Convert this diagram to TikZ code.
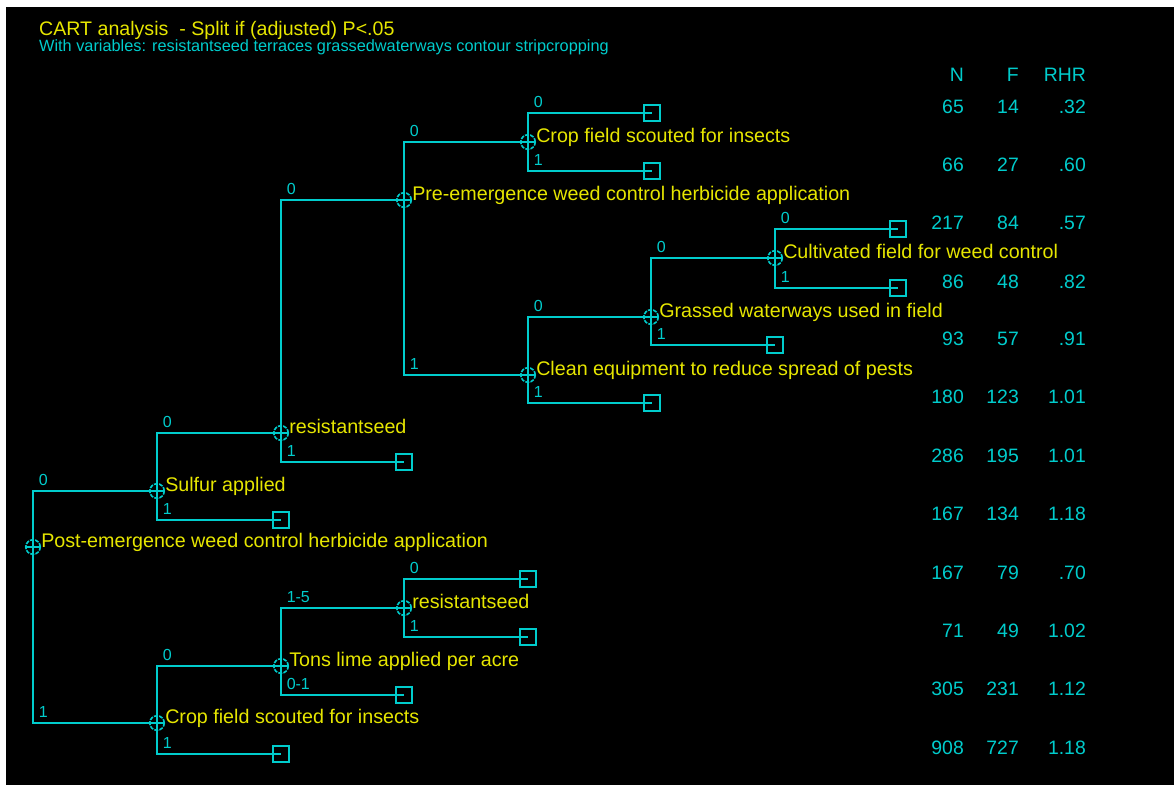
\documentclass[tikz,border=0pt]{standalone}
\usepackage{fontspec}
\setmainfont{Liberation Sans}
\usepackage{tikz}
\usetikzlibrary{positioning}
\definecolor{cartcyan}{RGB}{0,204,204}
\definecolor{cartyellow}{RGB}{230,230,0}
\begin{document}
\begin{tikzpicture}[x=1pt, y=-1pt,
    split/.style={circle, draw=cartcyan, line width=1.6pt, dash pattern=on 4pt off 1.2pt, minimum size=14.5pt, inner sep=0pt,
        path picture={\draw[cartcyan, solid, line width=1.6pt] (path picture bounding box.west) -- (path picture bounding box.east);}},
    leaf/.style={rectangle, draw=cartcyan, line width=1.5pt, minimum size=16pt, inner sep=0pt},
    edge/.style={cartcyan, line width=1.5pt},
    quest/.style={text=cartyellow, font=\fontsize{19.7}{22}\selectfont, inner sep=0pt, anchor=base west},
    branch/.style={text=cartcyan, font=\fontsize{16}{18}\selectfont, inner sep=0pt, anchor=base west, xshift=5pt, yshift=6pt},
    num/.style={text=cartcyan, font=\fontsize{19.4}{22}\selectfont, inner sep=0pt, anchor=base east}]
    \useasboundingbox (0,0) rectangle (1174,785);
    \fill[black] (6,7) rectangle (1174,785);

    \node[quest, font=\fontsize{19.6}{22}\selectfont] (title) at (39,35.5) {CART analysis\ \ - Split if (adjusted) P<.05};
    \node[text=cartcyan, font=\fontsize{16.3}{18}\selectfont, inner sep=0pt, anchor=base west] (subtitle) at (39,51.5) {With variables: resistantseed terraces grassedwaterways contour stripcropping};

    \node[split] (root) at (33,547) {};
    \node[split] (sulf) at (157,491) {};
    \node[split] (rsA) at (281,433) {};
    \node[split] (pre) at (404,200) {};
    \node[split] (cropA) at (528,142) {};
    \node[split] (clean) at (528,375) {};
    \node[split] (grass) at (651,317) {};
    \node[split] (cult) at (775,258) {};
    \node[split] (cropB) at (157,723) {};
    \node[split] (lime) at (281,666) {};
    \node[split] (rsB) at (404,608) {};

    \node[right=0pt of root, quest] (rootT) {Post-emergence weed control herbicide application};
    \node[right=0pt of sulf, quest] (sulfT) {Sulfur applied};
    \node[right=0pt of rsA, quest] (rsAT) {resistantseed};
    \node[right=0pt of pre, quest] (preT) {Pre-emergence weed control herbicide application};
    \node[right=0pt of cropA, quest] (cropAT) {Crop field scouted for insects};
    \node[right=0pt of clean, quest] (cleanT) {Clean equipment to reduce spread of pests};
    \node[right=0pt of grass, quest] (grassT) {Grassed waterways used in field};
    \node[right=0pt of cult, quest] (cultT) {Cultivated field for weed control};
    \node[right=0pt of cropB, quest] (cropBT) {Crop field scouted for insects};
    \node[right=0pt of lime, quest] (limeT) {Tons lime applied per acre};
    \node[right=0pt of rsB, quest] (rsBT) {resistantseed};

    \node[leaf] (l1) at (652,113) {};
    \node[leaf] (l2) at (652,171) {};
    \node[leaf] (l3) at (898,229) {};
    \node[leaf] (l4) at (898,288) {};
    \node[leaf] (l5) at (775,345) {};
    \node[leaf] (l6) at (652,403) {};
    \node[leaf] (l7) at (404,462) {};
    \node[leaf] (l8) at (281,520) {};
    \node[leaf] (l9) at (528,579) {};
    \node[leaf] (l10) at (528,637) {};
    \node[leaf] (l11) at (404,695) {};
    \node[leaf] (l12) at (281,754) {};

    \draw[edge] (root.center) |- node[branch] (b1) {0} (sulf.center);
    \draw[edge] (root.center) |- node[branch] (b2) {1} (cropB.center);
    \draw[edge] (sulf.center) |- node[branch] (b3) {0} (rsA.center);
    \draw[edge] (sulf.center) |- node[branch] (b4) {1} (l8.center);
    \draw[edge] (rsA.center) |- node[branch] (b5) {0} (pre.center);
    \draw[edge] (rsA.center) |- node[branch] (b6) {1} (l7.center);
    \draw[edge] (pre.center) |- node[branch] (b7) {0} (cropA.center);
    \draw[edge] (pre.center) |- node[branch] (b8) {1} (clean.center);
    \draw[edge] (cropA.center) |- node[branch] (b9) {0} (l1.center);
    \draw[edge] (cropA.center) |- node[branch] (b10) {1} (l2.center);
    \draw[edge] (clean.center) |- node[branch] (b11) {0} (grass.center);
    \draw[edge] (clean.center) |- node[branch] (b12) {1} (l6.center);
    \draw[edge] (grass.center) |- node[branch] (b13) {0} (cult.center);
    \draw[edge] (grass.center) |- node[branch] (b14) {1} (l5.center);
    \draw[edge] (cult.center) |- node[branch] (b15) {0} (l3.center);
    \draw[edge] (cult.center) |- node[branch] (b16) {1} (l4.center);
    \draw[edge] (cropB.center) |- node[branch] (b17) {0} (lime.center);
    \draw[edge] (cropB.center) |- node[branch] (b18) {1} (l12.center);
    \draw[edge] (lime.center) |- node[branch] (b19) {1-5} (rsB.center);
    \draw[edge] (lime.center) |- node[branch] (b20) {0-1} (l11.center);
    \draw[edge] (rsB.center) |- node[branch] (b21) {0} (l9.center);
    \draw[edge] (rsB.center) |- node[branch] (b22) {1} (l10.center);

    \node[num] (hN) at (964,81) {N};
    \node[num] (hF) at (1019,81) {F};
    \node[num] (hR) at (1086,81) {RHR};
    \foreach \i/\n/\f/\r in {1/65/14/.32, 2/66/27/.60, 3/217/84/.57, 4/86/48/.82, 5/93/57/.91, 6/180/123/1.01,
        7/286/195/1.01, 8/167/134/1.18, 9/167/79/.70, 10/71/49/1.02, 11/305/231/1.12, 12/908/727/1.18} {
        \node[num] (n\i) at (l\i -| hN.east) {\n};
        \node[num] (f\i) at (l\i -| hF.east) {\f};
        \node[num] (r\i) at (l\i -| hR.east) {\r};
    }
\end{tikzpicture}
\end{document}
